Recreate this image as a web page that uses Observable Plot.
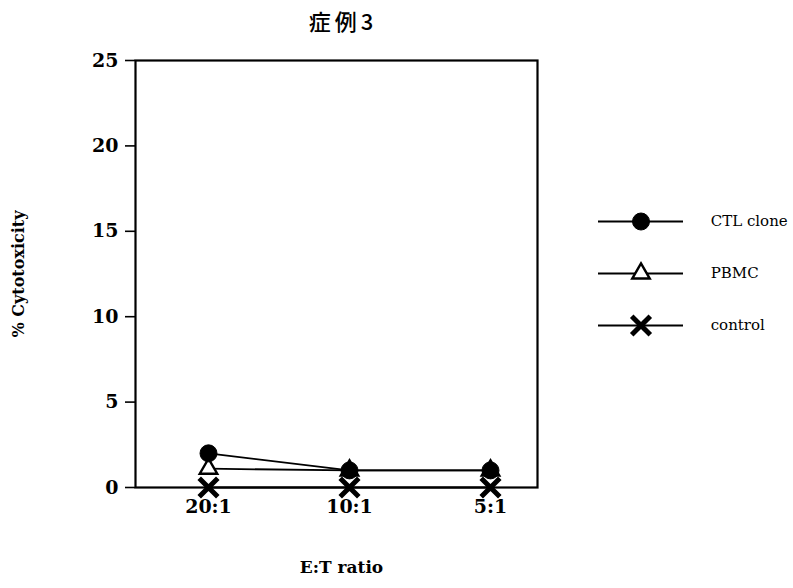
<!DOCTYPE html>
<html><head><meta charset="utf-8">
<script src="https://cdn.jsdelivr.net/npm/d3@7"></script>
<script src="https://cdn.jsdelivr.net/npm/@observablehq/plot@0.6"></script>
<style>
body{margin:0;background:#fff;}
#wrap{position:relative;width:793px;height:588px;overflow:hidden;}
#title{position:absolute;left:0;width:686px;top:4px;text-align:center;font-family:"Noto Sans CJK JP";font-weight:500;font-size:22px;letter-spacing:4px;color:#000;}
#legend{position:absolute;left:598px;top:196px;}
#chart{position:absolute;left:0;top:0;}
</style></head>
<body><div id="wrap"><div id="chart"></div><div id="legend"></div><div id="title">症例3</div></div>
<script>
const ratios = ["20:1", "10:1", "5:1"];
const ctlClone = [2, 1, 1];
const pbmc = [1.1, 1, 1];
const control = [0, 0, 0];
const seriesNames = ["CTL clone", "PBMC", "control"];
const yTicks = [0, 5, 10, 15, 20, 25];

const series = [
  {name: seriesNames[0], values: ctlClone, symbol: "circle", fill: "black", stroke: "black", r: 8.5, sw: 1},
  {name: seriesNames[1], values: pbmc, symbol: "triangle", fill: "white", stroke: "black", r: 6.5, sw: 2.4},
  {name: seriesNames[2], values: control, symbol: "times", fill: "none", stroke: "black", r: 8.5, sw: 5}
];
const rows = series.flatMap(s => s.values.map((v, i) => ({series: s.name, ratio: ratios[i], value: v})));
const serif = "'DejaVu Serif', serif";

const marks = [
  Plot.frame({stroke: "black", strokeWidth: 2.2}),
  Plot.axisY({ticks: yTicks, tickSize: 10, tickPadding: 7, label: null, fontSize: 19, fontWeight: "bold", strokeWidth: 1.6}),
  Plot.axisX({tickSize: 0, tickPadding: 12, label: null, fontSize: 19, fontWeight: "bold"}),
  Plot.text(["% Cytotoxicity"], {frameAnchor: "left", textAnchor: "middle", dx: -117, rotate: -90, fontSize: 16, fontWeight: "bold", fontFamily: serif}),
  Plot.text(["E:T ratio"], {frameAnchor: "bottom", dx: 5, dy: 85, fontSize: 17, fontWeight: "bold", fontFamily: serif})
];
for (const s of series) {
  const d = rows.filter(r => r.series === s.name);
  marks.push(Plot.line(d, {x: "ratio", y: "value", stroke: "black", strokeWidth: 1.8}));
}
for (const s of [...series].reverse()) {
  const d = rows.filter(r => r.series === s.name);
  marks.push(Plot.dot(d, {x: "ratio", y: "value", symbol: () => s.symbol, r: s.r, fill: s.fill, stroke: s.stroke, strokeWidth: s.sw}));
}

const chart = Plot.plot({
  width: 793, height: 588,
  marginLeft: 135, marginTop: 60, marginRight: 256, marginBottom: 101,
  style: {fontFamily: serif, color: "black", background: "white"},
  x: {type: "point", domain: ratios, padding: 0.425, align: 0.61},
  y: {domain: [0, 25]},
  symbol: {type: "identity"},
  marks
});
document.getElementById("chart").append(chart);

// legend
const legendRows = series.map(s => ({name: s.name}));
const legend = Plot.plot({
  width: 195, height: 160,
  margin: 0,
  style: {fontFamily: serif, color: "black", background: "transparent", overflow: "visible"},
  x: {domain: [0, 1], range: [0, 85], axis: null},
  y: {type: "point", domain: seriesNames, range: [25, 129], padding: 0, axis: null},
  symbol: {type: "identity"},
  marks: [
    Plot.ruleY(legendRows, {y: "name", x1: 0, x2: 1, stroke: "black", strokeWidth: 1.8}),
    ...series.map(s => Plot.dot([s], {x: 0.5, y: "name", symbol: () => s.symbol, r: s.r, fill: s.fill, stroke: s.stroke, strokeWidth: s.sw})),
    Plot.text(legendRows, {x: 1.32, y: "name", text: "name", textAnchor: "start", fontSize: 15})
  ]
});
document.getElementById("legend").append(legend);
</script></body></html>
